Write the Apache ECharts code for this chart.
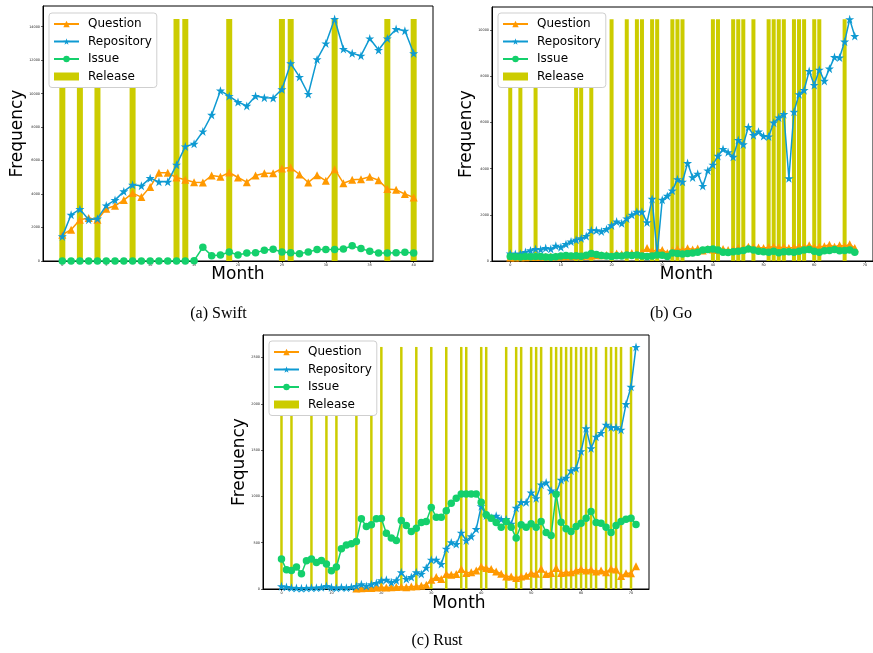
<!DOCTYPE html>
<html><head><meta charset="utf-8">
<script src="https://cdn.jsdelivr.net/npm/echarts@6/dist/echarts.min.js"></script>
<style>html,body{margin:0;padding:0;background:#fff}#c{width:873px;height:653px}</style>
</head><body><div id="c"></div>
<script>
// ---------------- DATA ----------------
const seriesNames = ['Question', 'Repository', 'Issue', 'Release'];

const swiftQuestion = [1570,1870,2470,2570,2470,3120,3300,3640,4060,3820,4430,5270,5270,4990,4850,4710,4690,5110,5030,5290,4990,4710,5110,5250,5250,5530,5590,5170,4690,5130,4790,5490,4650,4850,4890,5030,4830,4300,4260,4000,3800];
const swiftRepository = [1470,2760,3100,2470,2530,3320,3640,4160,4550,4490,4950,4730,4730,5750,6840,7000,7740,8730,10180,9860,9500,9270,9860,9760,9740,10260,11810,11000,9980,12050,13000,14460,12670,12410,12270,13300,12610,13300,13860,13760,12410];
const swiftIssue = [5,5,5,5,5,5,5,5,5,5,5,5,5,5,5,20,820,320,360,540,360,480,500,640,700,540,500,440,540,680,680,680,720,910,740,580,480,480,500,520,480];
const swiftReleaseMonths = [0,2,4,8,13,14,19,25,26,31,37,40];
const swiftReleaseHeight = 14460;
const swiftYTicks = [0,2000,4000,6000,8000,10000,12000,14000];
const swiftXTicks = [0,5,10,15,20,25,30,35,40];

const goQuestion = [150,150,160,160,170,170,180,180,190,190,200,210,210,220,220,230,240,250,250,260,270,330,290,310,350,310,380,560,420,480,480,350,450,520,480,550,500,540,460,520,500,480,520,480,500,560,540,620,600,580,560,600,620,580,600,560,580,620,600,680,580,620,640,700,620,680,640,720,560];
const goRepository = [317,300,317,390,460,520,500,560,520,660,600,730,840,920,980,1080,1330,1330,1280,1380,1540,1710,1630,1840,2000,2130,2130,1670,2690,300,2650,2820,3050,3540,3430,4240,3620,3780,3250,3920,4170,4550,4850,4710,4510,5240,5050,5800,5450,5600,5410,5390,5990,6210,6360,3580,6460,7220,7400,8230,7620,8280,7800,8330,8830,8810,9500,10470,9740];
const goIssue = [200,180,170,190,180,200,190,170,160,180,220,240,220,230,210,250,320,280,240,220,200,230,220,260,240,260,220,200,220,260,250,200,350,330,300,320,350,380,480,500,520,480,380,370,400,420,450,520,480,420,400,380,420,360,400,400,380,420,480,500,420,380,440,460,500,440,460,480,380];
const goReleaseMonths = [0,2,5,13,14,16,20,23,25,26,28,29,32,33,34,40,41,44,45,46,48,51,52,53,54,56,57,58,60,61,66];
const goReleaseHeight = 10470;
const goYTicks = [0,2000,4000,6000,8000,10000];
const goXTicks = [0,10,20,30,40,50,60,70];

const rustQuestion = [null,null,null,null,null,null,null,null,null,null,null,null,null,null,null,5,8,10,12,15,18,15,20,22,25,20,28,30,35,45,100,129,108,162,154,162,215,172,180,200,244,226,215,190,165,136,136,118,136,144,172,165,219,162,172,226,172,180,180,200,215,200,210,190,200,180,220,210,140,170,170,245];
const rustRepository = [29,22,14,11,7,11,14,14,18,32,18,11,18,14,22,32,50,32,50,65,93,100,72,93,180,108,129,180,162,230,316,316,269,435,503,485,607,524,568,647,894,793,770,790,754,754,703,876,937,937,1041,980,1127,1149,1063,1040,1178,1200,1278,1304,1487,1735,1519,1644,1684,1774,1746,1746,1720,1997,2183,2614];
const rustIssue = [323,208,201,237,165,305,323,287,309,269,198,237,435,474,488,514,758,675,693,758,762,603,550,524,740,686,621,657,718,729,880,776,776,844,927,981,1027,1027,1027,1027,938,801,765,718,668,729,668,550,693,668,704,668,729,611,578,1024,722,650,621,675,711,765,837,718,711,668,611,686,729,754,765,697];
const rustReleaseMonths = [0,2,6,9,11,15,18,20,24,27,30,33,36,37,40,41,45,47,48,50,51,52,54,55,56,57,58,59,60,61,62,63,65,66,67,68,70];
const rustReleaseHeight = 2614;
const rustYTicks = [0,500,1000,1500,2000,2500];
const rustXTicks = [0,10,20,30,40,50,60,70];

const captions = ['(a) Swift', '(b) Go', '(c) Rust'];
const axisTitleX = 'Month';
const axisTitleY = 'Frequency';

// ---------------- STYLE ----------------
const C_Q = '#ff9900', C_R = '#0e9ad2', C_I = '#14d06c', C_B = '#cccc00';
const STAR = 'path://M50,0 L61.2,34.5 L97.6,34.5 L68.2,55.9 L79.4,90.5 L50,69.1 L20.6,90.5 L31.8,55.9 L2.4,34.5 L38.8,34.5 Z';
const FONT = 'DejaVu Sans';

const panels = [
  {q: swiftQuestion, r: swiftRepository, i: swiftIssue, rel: swiftReleaseMonths, relH: swiftReleaseHeight,
   yt: swiftYTicks, xt: swiftXTicks, grid: {left: 43, top: 6, width: 390, height: 255},
   xmin: -2.2, xmax: 42.2, ymax: 15240, barW: 6, legend: {left: 49, top: 13}},
  {q: goQuestion, r: goRepository, i: goIssue, rel: goReleaseMonths, relH: goReleaseHeight,
   yt: goYTicks, xt: goXTicks, grid: {left: 492, top: 7, width: 389, height: 254},
   xmin: -3.6, xmax: 71.6, ymax: 11000, barW: 4, legend: {left: 498, top: 13}},
  {q: rustQuestion, r: rustRepository, i: rustIssue, rel: rustReleaseMonths, relH: rustReleaseHeight,
   yt: rustYTicks, xt: rustXTicks, grid: {left: 263, top: 335, width: 386, height: 254},
   xmin: -3.7, xmax: 73.6, ymax: 2743, barW: 2.5, legend: {left: 269, top: 341}}
];

const plain = v => String(Math.round(v));
const grids = [], xAxes = [], yAxes = [], series = [], legends = [];
panels.forEach((p, k) => {
  grids.push(Object.assign({show: true, borderColor: '#000', borderWidth: 1, backgroundColor: '#fff', containLabel: false}, p.grid));
  xAxes.push({type: 'value', gridIndex: k, min: p.xmin, max: p.xmax,
    axisLine: {show: true, onZero: false, lineStyle: {color: '#000', width: 1}},
    axisTick: {show: true, length: 2, customValues: p.xt, lineStyle: {color: '#000', width: 0.6}},
    axisLabel: {show: true, customValues: p.xt, formatter: plain, fontSize: 3.4, color: '#222', margin: 3, fontFamily: FONT},
    splitLine: {show: false}});
  yAxes.push({type: 'value', gridIndex: k, min: 0, max: p.ymax,
    axisLine: {show: true, onZero: false, lineStyle: {color: '#000', width: 1}},
    axisTick: {show: true, length: 2, customValues: p.yt, lineStyle: {color: '#000', width: 0.6}},
    axisLabel: {show: true, customValues: p.yt, formatter: plain, fontSize: 3.4, color: '#222', margin: 3, fontFamily: FONT},
    splitLine: {show: false}});
  const months = p.r.map((_, j) => j);
  const mk = (name, vals, color, symbol, size, z) => ({
    name, type: 'line', xAxisIndex: k, yAxisIndex: k, z,
    data: months.map((m, j) => [m, vals[j] == null ? '-' : vals[j]]),
    symbol, symbolSize: size, showSymbol: true, connectNulls: false,
    itemStyle: {color}, lineStyle: {color, width: 1.5}, emphasis: {disabled: true}
  });
  series.push({name: 'Release', type: 'bar', xAxisIndex: k, yAxisIndex: k, z: 1,
    data: p.rel.map(m => [m, p.relH]), barWidth: p.barW, itemStyle: {color: C_B}, emphasis: {disabled: true}});
  series.push(mk('Question', p.q, C_Q, 'triangle', 8, 3));
  series.push(mk('Repository', p.r, C_R, STAR, 9, 4));
  series.push(mk('Issue', p.i, C_I, 'circle', 7.5, 5));
  legends.push({orient: 'vertical', left: p.legend.left, top: p.legend.top,
    data: [{name: 'Question'}, {name: 'Repository'}, {name: 'Issue'}, {name: 'Release', icon: 'rect'}],
    itemWidth: 25, itemHeight: 8, itemGap: 5.5, padding: [5, 5, 5, 4],
    backgroundColor: '#fff', borderColor: '#cfcfcf', borderWidth: 1, borderRadius: 3,
    textStyle: {fontSize: 12, fontFamily: FONT, color: '#000', padding: [0, 0, 0, 4]},
    selectedMode: false, z: 10});
});

const txt = (text, x, y, size, rot, family) => ({
  type: 'text', x, y, rotation: rot || 0, z: 20,
  style: {text, font: size + 'px "' + (family || FONT) + '"', fill: '#000', textAlign: 'center', textVerticalAlign: 'middle'}
});

const graphic = [
  txt(axisTitleY, 17.5, 133.5, 17, Math.PI / 2),
  txt(axisTitleY, 466.5, 134, 17, Math.PI / 2),
  txt(axisTitleY, 240, 462, 17, Math.PI / 2),
  txt(axisTitleX, 238, 275, 17),
  txt(axisTitleX, 686.5, 275, 17),
  txt(axisTitleX, 459, 604, 17),
  txt(captions[0], 218.5, 314, 16, 0, 'Liberation Serif'),
  txt(captions[1], 671, 314, 16, 0, 'Liberation Serif'),
  txt(captions[2], 437, 641, 16, 0, 'Liberation Serif')
];

const chart = echarts.init(document.getElementById('c'), null, {renderer: 'canvas'});
chart.setOption({
  animation: false, backgroundColor: '#fff',
  grid: grids, xAxis: xAxes, yAxis: yAxes, series, legend: legends, graphic
});
</script></body></html>
